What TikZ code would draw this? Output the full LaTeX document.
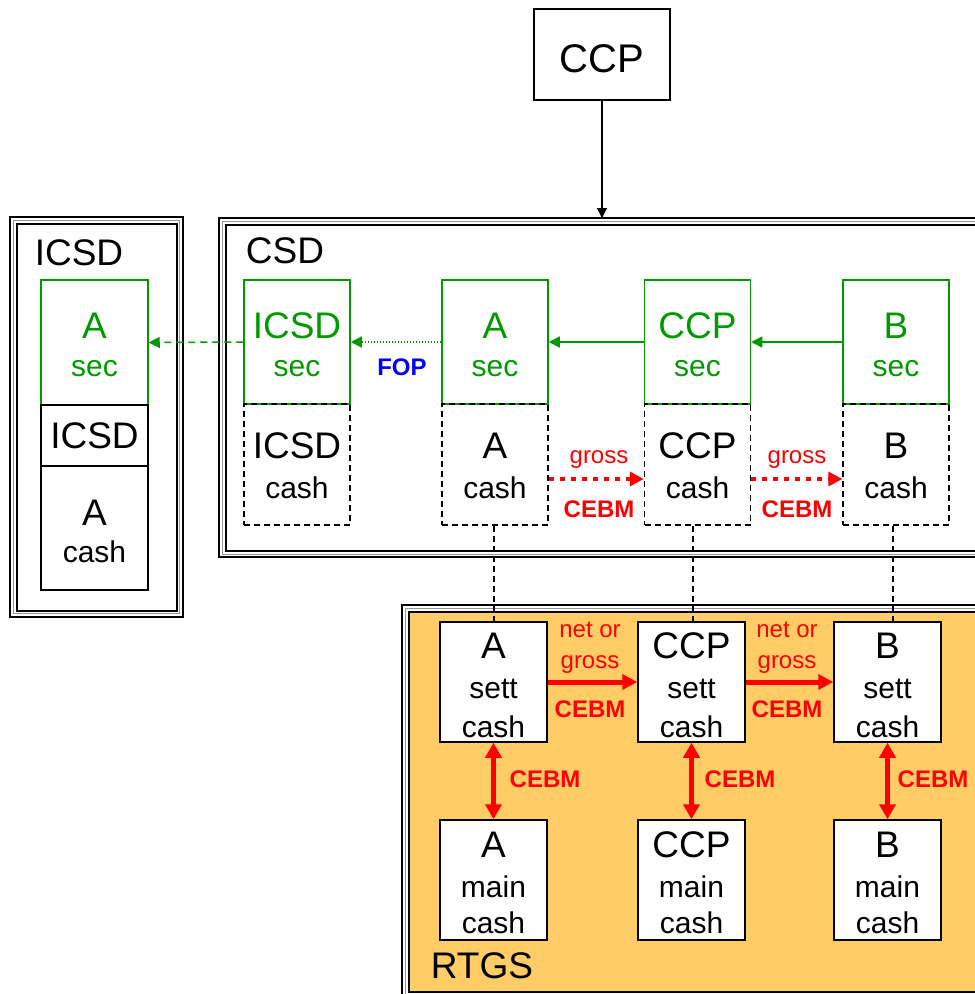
\documentclass[tikz,border=0pt]{standalone}
\usepackage{fontspec}
\setmainfont{Liberation Sans}
\usetikzlibrary{arrows.meta}
\definecolor{sgreen}{RGB}{0,153,0}
\definecolor{rtgsfill}{RGB}{255,204,102}
\definecolor{framegray}{RGB}{150,150,150}
\newcommand\bigf{\fontsize{37}{40}\selectfont}
\newcommand\midf{\fontsize{30}{34}\selectfont}
\newcommand\smf{\fontsize{24}{28}\selectfont}
\tikzset{
  secbox/.style={draw=sgreen, line width=1.5, minimum width=106, minimum height=124, inner sep=0},
  cashbox/.style={draw=black, line width=1.5, dash pattern=on 6 off 4, minimum width=106, minimum height=121, inner sep=0},
  rbox/.style={draw=black, fill=white, line width=1.5, minimum width=107, minimum height=120, inner sep=0},
  txt/.style={anchor=base, inner sep=0, outer sep=0},
  gtxt/.style={txt, text=sgreen},
  rtxt/.style={txt, text=red, font=\smf},
  rbtxt/.style={txt, text=red, font=\smf\bfseries},
  garrow/.style={draw=sgreen, line width=1.5, -{Triangle[length=11,width=11]}},
  rdotarrow/.style={draw=red, line width=4, dash pattern=on 5 off 6, -{Triangle[length=14,width=14]}},
  rarrow/.style={draw=red, line width=5, -{Triangle[length=15,width=15]}},
  rdarrow/.style={draw=red, line width=5, {Triangle[length=15,width=16]}-{Triangle[length=15,width=16]}},
  vdash/.style={draw=black, line width=1.2, dash pattern=on 6 off 4},
}
\begin{document}
\begin{tikzpicture}[x=1pt,y=-1pt]
\useasboundingbox (0,0) rectangle (975,994);
% ---------- frames ----------
% ICSD frame
\draw[line width=1.2] (10,217) rectangle (183,617);
\draw[framegray, line width=1] (13.3,220.3) rectangle (179.7,613.7);
\draw[line width=2] (16.5,223.5) rectangle (176.5,610.5);
% CSD frame
\draw[line width=1.2] (219,218) rectangle (995,557);
\draw[framegray, line width=1] (222.3,221.3) rectangle (995,554);
\draw[line width=2] (226,225) rectangle (995,551);
% RTGS frame
\draw[line width=1.2] (402,605) rectangle (995,1000);
\draw[framegray, line width=1] (405.3,608.3) rectangle (995,996);
\draw[line width=2, fill=rtgsfill] (408.5,611.5) rectangle (995,992);

% ---------- frame labels ----------
\node[txt, font=\bigf] (lblICSD) at (79,265) {ICSD};
\node[txt, font=\bigf] (lblCSD) at (285,263) {CSD};
\node[txt, font=\bigf] (lblRTGS) at (482,978) {RTGS};

% ---------- top CCP ----------
\node[draw, line width=1.2, minimum width=136, minimum height=91, inner sep=0] (ccp) at (602,54.5) {};
\node[txt, font=\fontsize{40}{44}\selectfont] (ccpT) at (602,72) {CCP};
\coordinate (csdtop) at (602,218);

% ---------- ICSD column (left) ----------
\node[secbox, minimum width=107, minimum height=125] (lsec) at (94.5,342.5) {};
\node[draw, line width=2, minimum width=107, minimum height=61, inner sep=0] (licsd) at (94.5,435.5) {};
\node[draw, line width=1.2, minimum width=107, minimum height=124, inner sep=0] (lcash) at (94.5,528) {};
\node[gtxt, font=\bigf] (lsecT1) at (94.5,338) {A};
\node[gtxt, font=\midf] (lsecT2) at (94.5,376) {sec};
\node[txt, font=\bigf] (licsdT) at (94.5,448) {ICSD};
\node[txt, font=\bigf] (lcashT1) at (94.5,525) {A};
\node[txt, font=\midf] (lcashT2) at (94.5,562) {cash};

% ---------- CSD sec / cash boxes ----------
\node[secbox] (secI) at (297,342) {};
\node[secbox] (secA) at (495,342) {};
\node[secbox] (secC) at (697.5,342) {};
\node[secbox] (secB) at (896,342) {};
\node[cashbox] (cashI) at (297,464.5) {};
\node[cashbox] (cashA) at (495,464.5) {};
\node[cashbox] (cashC) at (697.5,464.5) {};
\node[cashbox] (cashB) at (896,464.5) {};

\node[gtxt, font=\bigf] (secIT1) at (297,338) {ICSD};
\node[gtxt, font=\midf] (secIT2) at (297,376) {sec};
\node[gtxt, font=\bigf] (secAT1) at (495,338) {A};
\node[gtxt, font=\midf] (secAT2) at (495,376) {sec};
\node[gtxt, font=\bigf] (secCT1) at (697.5,338) {CCP};
\node[gtxt, font=\midf] (secCT2) at (697.5,376) {sec};
\node[gtxt, font=\bigf] (secBT1) at (896,338) {B};
\node[gtxt, font=\midf] (secBT2) at (896,376) {sec};

\node[txt, font=\bigf] (cashIT1) at (297,458) {ICSD};
\node[txt, font=\midf] (cashIT2) at (297,498) {cash};
\node[txt, font=\bigf] (cashAT1) at (495,458) {A};
\node[txt, font=\midf] (cashAT2) at (495,498) {cash};
\node[txt, font=\bigf] (cashCT1) at (697.5,458) {CCP};
\node[txt, font=\midf] (cashCT2) at (697.5,498) {cash};
\node[txt, font=\bigf] (cashBT1) at (896,458) {B};
\node[txt, font=\midf] (cashBT2) at (896,498) {cash};

% ---------- RTGS boxes ----------
\node[rbox] (settA) at (493.5,682) {};
\node[rbox] (settC) at (691.5,682) {};
\node[rbox] (settB) at (887.5,682) {};
\node[rbox] (mainA) at (493.5,880) {};
\node[rbox] (mainC) at (691.5,880) {};
\node[rbox] (mainB) at (887.5,880) {};

\node[txt, font=\bigf] (settAT1) at (493.5,658) {A};
\node[txt, font=\midf] (settAT2) at (493.5,698) {sett};
\node[txt, font=\midf] (settAT3) at (493.5,737) {cash};
\node[txt, font=\bigf] (settCT1) at (691.5,658) {CCP};
\node[txt, font=\midf] (settCT2) at (691.5,698) {sett};
\node[txt, font=\midf] (settCT3) at (691.5,737) {cash};
\node[txt, font=\bigf] (settBT1) at (887.5,658) {B};
\node[txt, font=\midf] (settBT2) at (887.5,698) {sett};
\node[txt, font=\midf] (settBT3) at (887.5,737) {cash};

\node[txt, font=\bigf] (mainAT1) at (493.5,857) {A};
\node[txt, font=\midf] (mainAT2) at (493.5,897) {main};
\node[txt, font=\midf] (mainAT3) at (493.5,933) {cash};
\node[txt, font=\bigf] (mainCT1) at (691.5,857) {CCP};
\node[txt, font=\midf] (mainCT2) at (691.5,897) {main};
\node[txt, font=\midf] (mainCT3) at (691.5,933) {cash};
\node[txt, font=\bigf] (mainBT1) at (887.5,857) {B};
\node[txt, font=\midf] (mainBT2) at (887.5,897) {main};
\node[txt, font=\midf] (mainBT3) at (887.5,933) {cash};

% ---------- connectors ----------
\draw[line width=1.2, -{Triangle[length=10,width=10]}] (ccp.south) -- (csdtop);

\draw[garrow] (secB.west) -- (secC.east);
\draw[garrow] (secC.west) -- (secA.east);
\draw[garrow, dash pattern=on 1.5 off 1.5] (secA.west) -- (secI.east);
\draw[garrow, dash pattern=on 7 off 5] (secI.west) -- (lsec.east);
\node[txt, text=blue, font=\smf\bfseries] (fop) at (402,375) {FOP};

\draw[rdotarrow] ([yshift=-14.5]cashA.east) -- ([yshift=-14.5]cashC.west);
\draw[rdotarrow] ([yshift=-14.5]cashC.east) -- ([yshift=-14.5]cashB.west);
\node[rtxt] (g1) at (599,463) {gross};
\node[rbtxt] (c1) at (599,517) {CEBM};
\node[rtxt] (g2) at (797,463) {gross};
\node[rbtxt] (c2) at (797,517) {CEBM};

\draw[vdash] ([xshift=-1]cashA.south) -- ([xshift=-1]cashA.south |- settA.north);
\draw[vdash] ([xshift=-4.5]cashC.south) -- ([xshift=-4.5]cashC.south |- settC.north);
\draw[vdash] ([xshift=-3]cashB.south) -- ([xshift=-3]cashB.south |- settB.north);

\draw[rarrow] (settA.east) -- (settC.west);
\draw[rarrow] (settC.east) -- (settB.west);
\node[rtxt] (n1) at (590,637) {net or};
\node[rtxt] (n1b) at (590,668) {gross};
\node[rbtxt] (n1c) at (590,717) {CEBM};
\node[rtxt] (n2) at (787,637) {net or};
\node[rtxt] (n2b) at (787,668) {gross};
\node[rbtxt] (n2c) at (787,717) {CEBM};

\draw[rdarrow] (settA.south) -- (mainA.north);
\draw[rdarrow] (settC.south) -- (mainC.north);
\draw[rdarrow] (settB.south) -- (mainB.north);
\node[rbtxt] (v1) at (545,787) {CEBM};
\node[rbtxt] (v2) at (740,787) {CEBM};
\node[rbtxt] (v3) at (933,787) {CEBM};
\end{tikzpicture}
\end{document}
